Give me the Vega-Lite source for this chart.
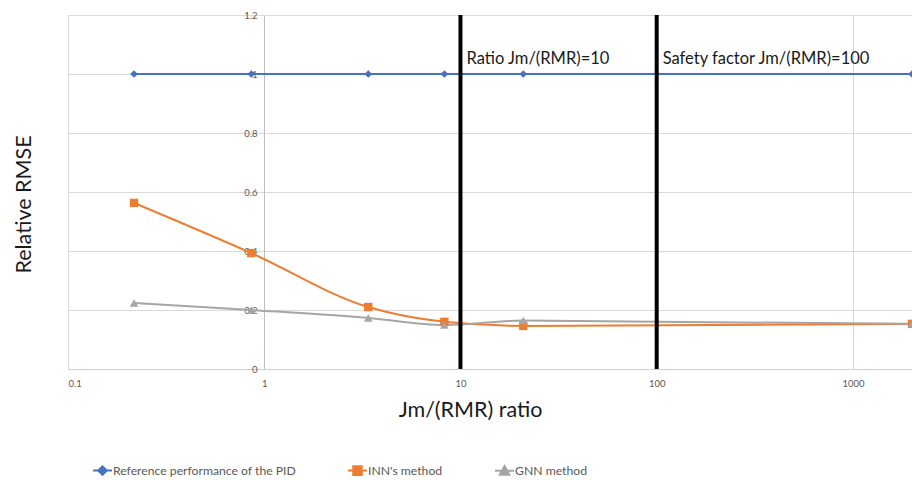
{
  "$schema": "https://vega.github.io/schema/vega-lite/v6.json",
  "width": 844,
  "height": 354,
  "autosize": {"type": "none"},
  "padding": {"left": 68, "top": 15, "right": 0, "bottom": 111},
  "background": "white",
  "config": {
    "font": "Lato",
    "view": {"stroke": null},
    "axis": {"labelFont": "Lato", "titleFont": "Lato"}
  },
  "datasets": {
    "series": [
      {"series": "Reference performance of the PID", "x": 0.217, "y": 1.0},
      {"series": "Reference performance of the PID", "x": 0.859, "y": 1.0},
      {"series": "Reference performance of the PID", "x": 3.39, "y": 1.0},
      {"series": "Reference performance of the PID", "x": 8.28, "y": 1.0},
      {"series": "Reference performance of the PID", "x": 20.9, "y": 1.0},
      {"series": "Reference performance of the PID", "x": 2000, "y": 1.0},
      {"series": "INN's method", "x": 0.217, "y": 0.563},
      {"series": "INN's method", "x": 0.859, "y": 0.393},
      {"series": "INN's method", "x": 3.39, "y": 0.21},
      {"series": "INN's method", "x": 8.28, "y": 0.16},
      {"series": "INN's method", "x": 20.9, "y": 0.146},
      {"series": "INN's method", "x": 2000, "y": 0.153},
      {"series": "GNN method", "x": 0.217, "y": 0.224},
      {"series": "GNN method", "x": 0.859, "y": 0.2},
      {"series": "GNN method", "x": 3.39, "y": 0.173},
      {"series": "GNN method", "x": 8.28, "y": 0.149},
      {"series": "GNN method", "x": 20.9, "y": 0.164},
      {"series": "GNN method", "x": 2000, "y": 0.153}
    ],
    "vlines": [
      {"x": 10, "label": "Ratio Jm/(RMR)=10", "ty": 1.05},
      {"x": 100, "label": "Safety factor Jm/(RMR)=100", "ty": 1.05}
    ]
  },
  "layer": [
    {
      "data": {"name": "series"},
      "mark": {"type": "line", "interpolate": "monotone", "strokeWidth": 2, "clip": false},
      "encoding": {
        "x": {
          "field": "x", "type": "quantitative",
          "scale": {"type": "log", "domain": [0.1, 2000], "nice": false},
          "axis": {
            "values": [0.1, 1, 10, 100, 1000],
            "labelExpr": "'' + datum.value",
            "grid": true, "gridColor": "#d9d9d9", "gridWidth": 1,
            "ticks": false, "domainColor": "#d0d0d0", "domainWidth": 1,
            "labelFontSize": 9.5, "labelColor": "#595959", "labelPadding": 9,
            "title": "Jm/(RMR) ratio", "titleFontSize": 21.5, "titleFontWeight": "normal",
            "titleColor": "#1a1a1a", "titleX": 402, "titleY": 41, "titleBaseline": "middle"
          }
        },
        "y": {
          "field": "y", "type": "quantitative",
          "scale": {"domain": [0, 1.2], "nice": false},
          "axis": {
            "values": [0, 0.2, 0.4, 0.6, 0.8, 1, 1.2],
            "labelExpr": "'' + datum.value",
            "offset": -196,
            "grid": true, "gridColor": "#d9d9d9", "gridWidth": 1,
            "ticks": false, "domainColor": "#bfbfbf", "domainWidth": 1,
            "labelFontSize": 9.5, "labelColor": "#595959", "labelPadding": 7,
            "title": "Relative RMSE", "titleFontSize": 21.5, "titleFontWeight": "normal",
            "titleColor": "#1a1a1a", "titleX": -240, "titleY": 189,
            "titleAngle": -90, "titleBaseline": "middle", "titleAlign": "center"
          }
        },
        "color": {
          "field": "series", "type": "nominal",
          "scale": {
            "domain": ["Reference performance of the PID", "INN's method", "GNN method"],
            "range": ["#4472C4", "#ED7D31", "#A5A5A5"]
          },
          "legend": {
            "orient": "none", "direction": "horizontal",
            "legendX": 24, "legendY": 445,
            "title": null,
            "labelFont": "Lato", "labelFontSize": 12.2, "labelColor": "#595959", "labelLimit": 400,
            "symbolSize": 361, "symbolStrokeWidth": 2, "labelOffset": 0,
            "columnPadding": 48,
            "encode": {
              "symbols": {
                "update": {
                  "shape": {"signal": "datum.value === 'INN\\'s method' ? 'M-1,0H1M-0.45,-0.45H0.45V0.45H-0.45Z' : datum.value === 'GNN method' ? 'M-1,0H1M0,-0.5L0.5,0.4H-0.5Z' : 'M-1,0H1M0,-0.45L0.45,0L0,0.45L-0.45,0Z'"},
                  "fill": {"signal": "scale('color', datum.value)"},
                  "stroke": {"signal": "scale('color', datum.value)"}
                }
              }
            }
          }
        }
      }
    },
    {
      "data": {"name": "series"},
      "transform": [{"filter": "datum.series === 'Reference performance of the PID'"}],
      "mark": {"type": "point", "shape": "diamond", "filled": true, "opacity": 1, "size": 60, "clip": false},
      "encoding": {
        "x": {"field": "x", "type": "quantitative"},
        "y": {"field": "y", "type": "quantitative"},
        "color": {"field": "series", "type": "nominal", "legend": null}
      }
    },
    {
      "data": {"name": "series"},
      "transform": [{"filter": "datum.series === 'INN\\'s method'"}],
      "mark": {"type": "point", "shape": "square", "filled": true, "opacity": 1, "size": 70, "clip": false},
      "encoding": {
        "x": {"field": "x", "type": "quantitative"},
        "y": {"field": "y", "type": "quantitative"},
        "color": {"field": "series", "type": "nominal", "legend": null}
      }
    },
    {
      "data": {"name": "series"},
      "transform": [{"filter": "datum.series === 'GNN method'"}],
      "mark": {"type": "point", "shape": "triangle-up", "filled": true, "opacity": 1, "size": 75, "clip": false},
      "encoding": {
        "x": {"field": "x", "type": "quantitative"},
        "y": {"field": "y", "type": "quantitative"},
        "color": {"field": "series", "type": "nominal", "legend": null}
      }
    },
    {
      "data": {"name": "vlines"},
      "mark": {"type": "rule", "color": "black", "strokeWidth": 4},
      "encoding": {
        "x": {"field": "x", "type": "quantitative"}
      }
    },
    {
      "data": {"name": "vlines"},
      "mark": {"type": "text", "align": "left", "baseline": "middle", "dx": 6, "fontSize": 16.5, "color": "#1a1a1a", "font": "Lato"},
      "encoding": {
        "x": {"field": "x", "type": "quantitative"},
        "y": {"field": "ty", "type": "quantitative"},
        "text": {"field": "label"}
      }
    }
  ]
}
